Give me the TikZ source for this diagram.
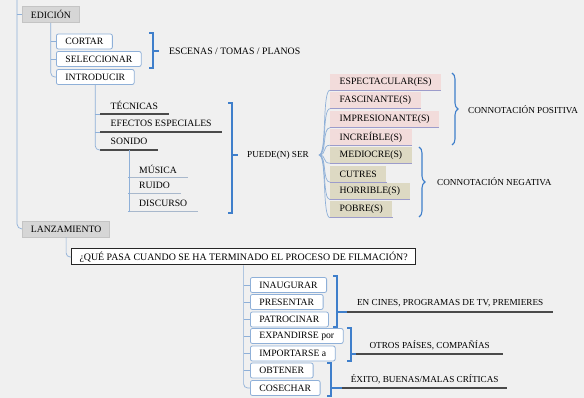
\documentclass[tikz,border=0pt]{standalone}
\usepackage{fontspec}
\setmainfont{Liberation Serif}
\usepackage{tikz}
\usetikzlibrary{decorations.pathreplacing,calc}

\definecolor{bgcol}{HTML}{F0F0F0}
\definecolor{linkcol}{HTML}{8FB0D8}
\definecolor{brackcol}{HTML}{3F7FCB}
\definecolor{boxgray}{HTML}{D6D6D6}
\definecolor{boxgrayline}{HTML}{C4C4C4}
\definecolor{posfill}{HTML}{F2DCDB}
\definecolor{negfill}{HTML}{DDD9C3}
\definecolor{adjline}{HTML}{9C9CCB}
\definecolor{ulcol}{HTML}{4A4A4A}
\definecolor{subul}{HTML}{A8B8CC}

\begin{document}
\begin{tikzpicture}[
	x=1pt, y=-1pt,
	font=\fontsize{9.7}{12}\selectfont,
	link/.style={draw=linkcol, line width=0.7pt},
	brack/.style={draw=brackcol, line width=1.4pt},
	topic/.style={anchor=west, fill=boxgray, draw=boxgrayline, line width=0.8pt,
		inner xsep=8.5pt, inner ysep=0pt, minimum height=16pt},
	verbbox/.style={anchor=west, fill=white, draw=linkcol, line width=0.8pt,
		rounded corners=2pt, inner xsep=9pt, inner ysep=0pt, minimum height=15pt},
	adjbox/.style={anchor=west, inner xsep=9.5pt, inner ysep=0pt, minimum height=16pt,
		append after command={(\tikzlastnode.south west) edge[draw=adjline, line width=0.8pt] (\tikzlastnode.south east)}},
	posadj/.style={adjbox, fill=posfill},
	negadj/.style={adjbox, fill=negfill},
	uline/.style={anchor=south west, inner xsep=10.5pt, inner ysep=0pt, minimum height=17pt,
		append after command={(\tikzlastnode.south west) edge[draw=ulcol, line width=1.2pt] (\tikzlastnode.south east)}},
	subline/.style={anchor=south west, inner xsep=11pt, inner ysep=0pt, minimum height=15pt,
		append after command={(\tikzlastnode.south west) edge[draw=subul, line width=0.7pt] (\tikzlastnode.south east)}},
	note/.style={anchor=west, inner sep=0pt, font=\fontsize{9.2}{11}\selectfont},
	askbox/.style={anchor=west, fill=white, draw=black!85, line width=1pt,
		inner xsep=8pt, inner ysep=0pt, minimum height=16pt, font=\fontsize{9.9}{12}\selectfont},
]
	\fill[bgcol] (0,0) rectangle (584,398);
	\useasboundingbox (0,0) rectangle (584,398);

	% edicion
	\node[topic] at (22,14.5) (edicion) {EDICIÓN};
	\node[verbbox] at (56,41.5) (cortar) {CORTAR};
	\node[verbbox] at (56,59) (selecc) {SELECCIONAR};
	\node[verbbox] at (56,77) (introd) {INTRODUCIR};
	\node[note, font=\fontsize{9.8}{12}\selectfont] at (169,51) (escenas) {ESCENAS / TOMAS / PLANOS};

	\node[uline] at (100,114) (tecnicas) {TÉCNICAS};
	\node[uline] at (100,132) (efectos) {EFECTOS ESPECIALES};
	\node[uline] at (100,150) (sonido) {SONIDO};
	\node[subline] at (128,177) (musica) {MÚSICA};
	\node[subline] at (128,193) (ruido) {RUIDO};
	\node[subline] at (128,211) (discurso) {DISCURSO};
	\node[note] at (247,155) (puede) {PUEDE(N) SER};
	\coordinate (root) at (319,155);

	\node[posadj] at (330,82) (espec) {ESPECTACULAR(ES)};
	\node[posadj] at (330,100.5) (fasc) {FASCINANTE(S)};
	\node[posadj] at (330,119.5) (impr) {IMPRESIONANTE(S)};
	\node[posadj] at (330,137) (incr) {INCREÍBLE(S)};
	\node[negadj] at (330,155) (medio) {MEDIOCRE(S)};
	\node[negadj] at (330,174) (cutres) {CUTRES};
	\node[negadj] at (330,191.5) (horr) {HORRIBLE(S)};
	\node[negadj] at (330,209.5) (pobre) {POBRE(S)};
	\node[note] at (468,110) (positiva) {CONNOTACIÓN POSITIVA};
	\node[note] at (437,182) (negativa) {CONNOTACIÓN NEGATIVA};

	% lanzamiento
	\node[topic] at (22,229) (lanz) {LANZAMIENTO};
	\node[askbox] at (71,257) (pregunta) {¿QUÉ PASA CUANDO SE HA TERMINADO EL PROCESO DE FILMACIÓN?};
	\node[verbbox] at (250,285) (inaug) {INAUGURAR};
	\node[verbbox] at (250,302) (present) {PRESENTAR};
	\node[verbbox] at (250,319.5) (patroc) {PATROCINAR};
	\node[verbbox] at (250,336) (expand) {EXPANDIRSE por};
	\node[verbbox] at (250,353.5) (import) {IMPORTARSE a};
	\node[verbbox] at (250,370.5) (obtener) {OBTENER};
	\node[verbbox] at (250,388) (cosechar) {COSECHAR};
	\node[uline, note, anchor=south west, minimum height=17pt, minimum width=206pt] at (347,312) (encines) {EN CINES, PROGRAMAS DE TV, PREMIERES};
	\node[uline, note, anchor=south west, minimum height=17pt, minimum width=147pt] at (356,354) (otros) {OTROS PAÍSES, COMPAÑÍAS};
	\node[uline, note, anchor=south west, minimum height=17pt, minimum width=165pt] at (342,388) (exito) {ÉXITO, BUENAS/MALAS CRÍTICAS};

	% lineas
	\coordinate (top) at (17,0);
	\draw[link,rounded corners=5pt] (top) |- (lanz.west);
	\draw[link] (top |- edicion.west) -- (edicion.west);

	\draw[link,rounded corners=4pt] (edicion.south) |- (introd.west);
	\draw[link] (edicion.south |- cortar.west) -- (cortar.west);
	\draw[link] (edicion.south |- selecc.west) -- (selecc.west);

	\draw[link,rounded corners=4pt] (introd.south) |- (sonido.south west);
	\draw[link] (introd.south |- tecnicas.south west) -- (tecnicas.south west);
	\draw[link] (introd.south |- efectos.south west) -- (efectos.south west);

	\draw[link] (sonido.south) -- (sonido.south |- discurso.south west) -- (discurso.south west);
	\draw[link] (sonido.south |- musica.south west) -- (musica.south west);
	\draw[link] (sonido.south |- ruido.south west) -- (ruido.south west);

	\draw[link] (root) .. controls +(8,0) and +(-8,0) .. (espec.south west);
	\draw[link] (root) .. controls +(8,0) and +(-8,0) .. (fasc.south west);
	\draw[link] (root) .. controls +(8,0) and +(-8,0) .. (impr.south west);
	\draw[link] (root) .. controls +(8,0) and +(-8,0) .. (incr.south west);
	\draw[link] (root) .. controls +(8,0) and +(-8,0) .. (medio.south west);
	\draw[link] (root) .. controls +(8,0) and +(-8,0) .. (cutres.south west);
	\draw[link] (root) .. controls +(8,0) and +(-8,0) .. (horr.south west);
	\draw[link] (root) .. controls +(8,0) and +(-8,0) .. (pobre.south west);

	\draw[link,rounded corners=4pt] (lanz.south) |- (pregunta.west);
	\draw[link,rounded corners=4pt] (pregunta.south) |- (cosechar.west);
	\draw[link] (pregunta.south |- inaug.west) -- (inaug.west);
	\draw[link] (pregunta.south |- present.west) -- (present.west);
	\draw[link] (pregunta.south |- patroc.west) -- (patroc.west);
	\draw[link] (pregunta.south |- expand.west) -- (expand.west);
	\draw[link] (pregunta.south |- import.west) -- (import.west);
	\draw[link] (pregunta.south |- obtener.west) -- (obtener.west);

	% corchetes
	\draw[brack] (149,33) -- (153,33) -- (153,68) -- (149,68);
	\draw[brack] (153,51) -- (159,51);
	\draw[brack] (228,103) -- (232,103) -- (232,213) -- (228,213);
	\draw[brack] (232,155) -- (238,155);
	\draw[brack] (333,276) -- (337,276) -- (337,327) -- (333,327);
	\draw[brack] (337,312) -- (encines.south west);
	\draw[brack] (347,328) -- (351,328) -- (351,361) -- (347,361);
	\draw[brack] (351,354) -- (otros.south west);
	\draw[brack] (327,363) -- (331,363) -- (331,396) -- (327,396);
	\draw[brack] (331,388) -- (exito.south west);

	\draw[draw=brackcol, line width=1.1pt, decorate, decoration={brace, amplitude=6pt}] (452,73) -- (452,145);
	\draw[draw=brackcol, line width=1.1pt, decorate, decoration={brace, amplitude=6pt}] (419,147) -- (419,217);
\end{tikzpicture}
\end{document}
